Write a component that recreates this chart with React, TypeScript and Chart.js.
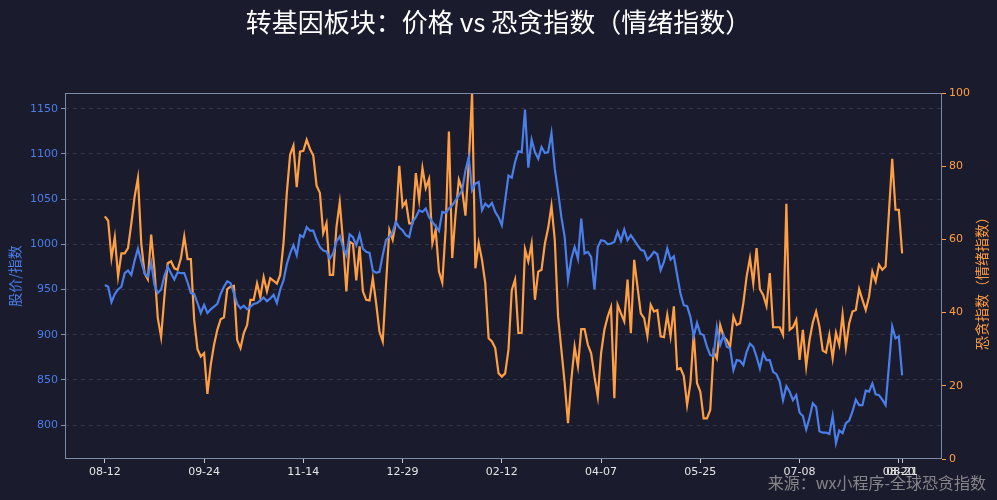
import React, { useEffect, useRef } from "react";
import { Chart, registerables } from "chart.js";

Chart.register(...registerables);

// ---------------- data ----------------
const priceSeries: number[] = [
  955, 953, 936, 945, 950, 953, 968, 971, 966, 982,
  995, 981, 968, 964, 980, 955, 946, 950, 965, 975,
  968, 961, 969, 968, 968, 958, 946, 945, 935, 924,
  933, 924, 928, 931, 934, 945, 953, 959, 957, 946,
  934, 929, 932, 928, 931, 934, 935, 938, 941, 937,
  940, 944, 935, 950, 960, 978, 990, 999, 988, 1010,
  1008, 1019, 1015, 1015, 1005, 997, 993, 992, 984, 990,
  1003, 1009, 997, 988, 1011, 1008, 999, 1011, 995, 991.6,
  990.5, 971, 968.4, 969.5, 988, 1005, 1008, 1013.7, 1024.7, 1018.5,
  1015.5, 1010, 1008, 1024.7, 1030, 1037.6, 1035.8, 1039.5, 1030, 1024.7,
  1020, 1014.8, 1035.8, 1034.7, 1039.5, 1043, 1048.7, 1054.2, 1059.7, 1081.8,
  1096.6, 1059.7, 1067.2, 1069, 1037.6, 1045, 1041.3, 1045.7, 1035.8, 1030,
  1021, 1048.7, 1076, 1073.7, 1091, 1102.8, 1102, 1149, 1084.8, 1115.7,
  1102, 1094.7, 1107.6, 1101, 1102, 1123, 1083.7, 1058, 1030, 1008,
  961, 984, 997, 984, 1028.4, 989.7, 991.6, 986, 950, 997,
  1004.5, 1003.7, 1000, 1000.8, 1002.6, 1013.7, 1003.7, 1016.2, 1004.5, 1010,
  1004.5, 999, 994, 992.7, 983, 986.8, 991.6, 989, 971.3, 980.5,
  995.3, 983, 986.8, 965.8, 945.5, 932.6, 931.5, 919.7, 898.3, 913,
  901, 899.5, 886.6, 877.3, 876.2, 908.7, 888.4, 899.5, 886.6, 884.7,
  860.8, 871.8, 871, 866.3, 881, 890, 886.6, 875.5, 862.6, 879.2,
  871.8, 871.8, 858.9, 856.3, 847.8, 827.6, 843, 836.8, 827.6, 833.1,
  813.6, 810, 795, 808, 824, 820, 793, 791.5, 791.5, 790,
  810, 780, 794, 791, 802, 805, 815, 828, 822, 822,
  838, 837, 846, 834, 833, 828, 822, 865, 909, 896,
  898, 855,
];

const fearGreedSeries: number[] = [
  66.3, 65.1, 54.9, 60.6, 49.9, 56.2, 56.2, 57.6, 64.4, 71.7,
  76.8, 59.0, 50.8, 49.1, 61.3, 51.7, 38.5, 33.3, 44.4, 53.5,
  54.0, 52.1, 51.7, 54.9, 60.8, 54.6, 54.6, 38.0, 30.0, 28.0,
  28.9, 17.8, 25.7, 31.2, 35.3, 38.2, 38.7, 46.4, 47.1, 47.3,
  32.5, 30.3, 34.4, 36.6, 43.5, 43.5, 48.0, 44.2, 49.7, 45.8,
  49.4, 48.7, 47.9, 50.3, 59.0, 72.7, 83.1, 85.6, 74.3, 84.0,
  84.2, 87.2, 84.7, 82.9, 74.7, 72.7, 61.7, 64.4, 50.3, 50.3,
  63.3, 70.1, 59.4, 45.8, 59.4, 58.8, 48.8, 58.1, 45.8, 43.5,
  43.3, 49.4, 42.6, 34.8, 32.1, 48.0, 62.6, 59.9, 64.9, 80.1,
  69.0, 70.4, 64.4, 64.4, 78.1, 70.8, 79.5, 74.0, 76.5, 59.0,
  62.6, 51.2, 48.2, 62.6, 89.5, 54.9, 66.7, 76.3, 73.6, 66.5,
  80.9, 100.0, 52.1, 59.0, 54.4, 48.0, 33.0, 32.1, 30.3, 23.4,
  22.5, 23.4, 29.8, 46.2, 49.0, 34.4, 34.5, 57.3, 54.0, 58.8,
  43.5, 51.2, 51.7, 58.8, 63.1, 69.2, 59.9, 38.9, 29.8, 20.7,
  9.8, 21.6, 30.7, 25.3, 35.5, 35.5, 31.2, 28.9, 22.5, 17.0,
  28.9, 35.3, 38.9, 41.5, 16.6, 42.1, 39.8, 37.6, 49.0, 34.4,
  54.4, 47.1, 39.8, 38.5, 33.6, 42.1, 40.3, 40.7, 33.5, 33.3,
  39.4, 33.5, 41.7, 24.5, 24.8, 22.7, 14.8, 20.7, 34.4, 20.7,
  18.4, 11.1, 11.1, 13.4, 29.4, 27.5, 36.6, 33.5, 32.5, 30.7,
  38.9, 36.6, 37.1, 42.6, 49.9, 54.9, 48.0, 57.6, 46.4, 44.8,
  41.8, 50.8, 36.0, 36.0, 36.0, 33.9, 69.7, 35.3, 36.0, 38.0,
  27.1, 35.3, 25.3, 32.5, 37.3, 40.3, 36.2, 29.6, 29.1, 33.9,
  27.5, 34.5, 31.2, 39.4, 30.5, 37.1, 40.3, 40.7, 46.4, 43.5,
  40.7, 44.4, 51.2, 48.5, 53.1, 51.7, 52.6, 67.2, 82.0, 68.1,
  68.1, 56.2,
];

const xTickIndices: number[] = [0, 30, 60, 90, 120, 150, 180, 210, 240, 241];
const xTickLabels: string[] = ["08-12", "09-24", "11-14", "12-29", "02-12", "04-07", "05-25", "07-08", "08-20", "08-21"];
const leftTicks: number[] = [800, 850, 900, 950, 1000, 1050, 1100, 1150];
const rightTicks: number[] = [0, 20, 40, 60, 80, 100];

const titleText = "转基因板块：价格 vs 恐贪指数（情绪指数）";
const leftAxisTitle = "股价/指数";
const rightAxisTitle = "恐贪指数（情绪指数）";
const sourceText = "来源：wx小程序-全球恐贪指数";

// ---------------- style ----------------
const BG = "#1b1b2e";
const BLUE = "#4a7ee8";
const ORANGE = "#ff9f43";
const FRAME = "#7e8aa6";
const CJK = "'Noto Sans CJK SC', 'Noto Sans', sans-serif";
const TICKFONT = "'DejaVu Sans', sans-serif";

const decorPlugin = {
  id: "decor",
  beforeDraw(chart: any) {
    const { ctx, width, height } = chart;
    ctx.save();
    ctx.fillStyle = BG;
    ctx.fillRect(0, 0, width, height);
    ctx.restore();
  },
  afterDraw(chart: any) {
    const { ctx, chartArea: a, width } = chart;
    ctx.save();
    // frame
    ctx.strokeStyle = FRAME;
    ctx.lineWidth = 1;
    ctx.strokeRect(Math.round(a.left) + 0.5, Math.round(a.top) + 0.5, Math.round(a.right - a.left) - 1, Math.round(a.bottom - a.top) - 1);

    // title
    ctx.fillStyle = "#ffffff";
    ctx.font = `26px ${CJK}`;
    ctx.textAlign = "center";
    ctx.textBaseline = "middle";
    ctx.fillText(titleText, width / 2, 22);

    const midY = (a.top + a.bottom) / 2;
    // left axis title
    ctx.save();
    ctx.translate(15, midY);
    ctx.rotate(-Math.PI / 2);
    ctx.font = `14px ${CJK}`;
    ctx.fillStyle = BLUE;
    ctx.textAlign = "center";
    ctx.textBaseline = "middle";
    ctx.fillText(leftAxisTitle, 0, 0);
    ctx.restore();

    // right axis title
    ctx.save();
    ctx.translate(982, midY + 4);
    ctx.rotate(-Math.PI / 2);
    ctx.font = `14px ${CJK}`;
    ctx.fillStyle = ORANGE;
    ctx.textAlign = "center";
    ctx.textBaseline = "middle";
    ctx.fillText(rightAxisTitle, 0, 0);
    ctx.restore();

    // source watermark
    ctx.font = `16px ${CJK}`;
    ctx.fillStyle = "rgba(160,160,160,0.8)";
    ctx.textAlign = "right";
    ctx.textBaseline = "middle";
    ctx.fillText(sourceText, 986, 483);
    ctx.restore();
  },
};

export default function App() {
  const canvasRef = useRef<HTMLCanvasElement | null>(null);

  useEffect(() => {
    const canvas = canvasRef.current;
    if (!canvas) return;
    const n = priceSeries.length;
    const pad = (n - 1) * 0.05;

    const chart = new Chart(canvas, {
      type: "line",
      data: {
        datasets: [
          {
            label: "价格",
            data: priceSeries.map((v, i) => ({ x: i, y: v })),
            borderColor: BLUE,
            backgroundColor: BLUE,
            borderWidth: 2.2,
            pointRadius: 0,
            tension: 0,
            yAxisID: "y",
          },
          {
            label: "恐贪指数",
            data: fearGreedSeries.map((v, i) => ({ x: i, y: v })),
            borderColor: ORANGE,
            backgroundColor: ORANGE,
            borderWidth: 2.2,
            pointRadius: 0,
            tension: 0,
            yAxisID: "y1",
          },
        ],
      },
      options: {
        responsive: false,
        animation: false,
        devicePixelRatio: 1,
        layout: { padding: { top: 93, left: 0, right: 0, bottom: 0 } },
        plugins: {
          legend: { display: false },
          title: { display: false },
          tooltip: { enabled: false },
        },
        scales: {
          x: {
            type: "linear",
            min: -pad,
            max: n - 1 + pad,
            afterBuildTicks: (s: any) => {
              s.ticks = xTickIndices.map((v) => ({ value: v }));
            },
            afterFit: (s: any) => {
              s.height = 41;
            },
            ticks: {
              autoSkip: false,
              maxRotation: 0,
              minRotation: 0,
              padding: 3,
              color: "#e6e6e6",
              font: { family: TICKFONT, size: 11 },
              callback: (v: any) => {
                const k = xTickIndices.indexOf(Number(v));
                return k >= 0 ? xTickLabels[k] : "";
              },
            },
            grid: { drawOnChartArea: false, drawTicks: true, tickLength: 4, tickColor: "#c8c8c8", tickWidth: 1 },
            border: { display: false },
          },
          y: {
            type: "linear",
            position: "left",
            min: 762.4,
            max: 1167.4,
            afterBuildTicks: (s: any) => {
              s.ticks = leftTicks.map((v) => ({ value: v }));
            },
            afterFit: (s: any) => {
              s.width = 65;
            },
            ticks: {
              padding: 3,
              color: BLUE,
              font: { family: TICKFONT, size: 11 },
              callback: (v: any) => String(v),
            },
            grid: {
              drawOnChartArea: true,
              color: "rgba(255,255,255,0.11)",
              lineWidth: 1,
              drawTicks: true,
              tickLength: 4,
              tickColor: "#7f8fb5",
              tickWidth: 1,
            },
            border: { display: false, dash: [4, 4] },
          },
          y1: {
            type: "linear",
            position: "right",
            min: 0,
            max: 100,
            afterBuildTicks: (s: any) => {
              s.ticks = rightTicks.map((v) => ({ value: v }));
            },
            afterFit: (s: any) => {
              s.width = 55;
            },
            ticks: {
              padding: 3,
              color: ORANGE,
              font: { family: TICKFONT, size: 11 },
              callback: (v: any) => String(v),
            },
            grid: { drawOnChartArea: false, drawTicks: true, tickLength: 4, tickColor: ORANGE, tickWidth: 1 },
            border: { display: false },
          },
        },
      },
      plugins: [decorPlugin],
    } as any);

    return () => chart.destroy();
  }, []);

  return (
    <div style={{ position: "absolute", left: 0, top: 0, width: 997, height: 500, background: BG }}>
      <canvas ref={canvasRef} width={997} height={500} style={{ display: "block", width: 997, height: 500 }} />
    </div>
  );
}
